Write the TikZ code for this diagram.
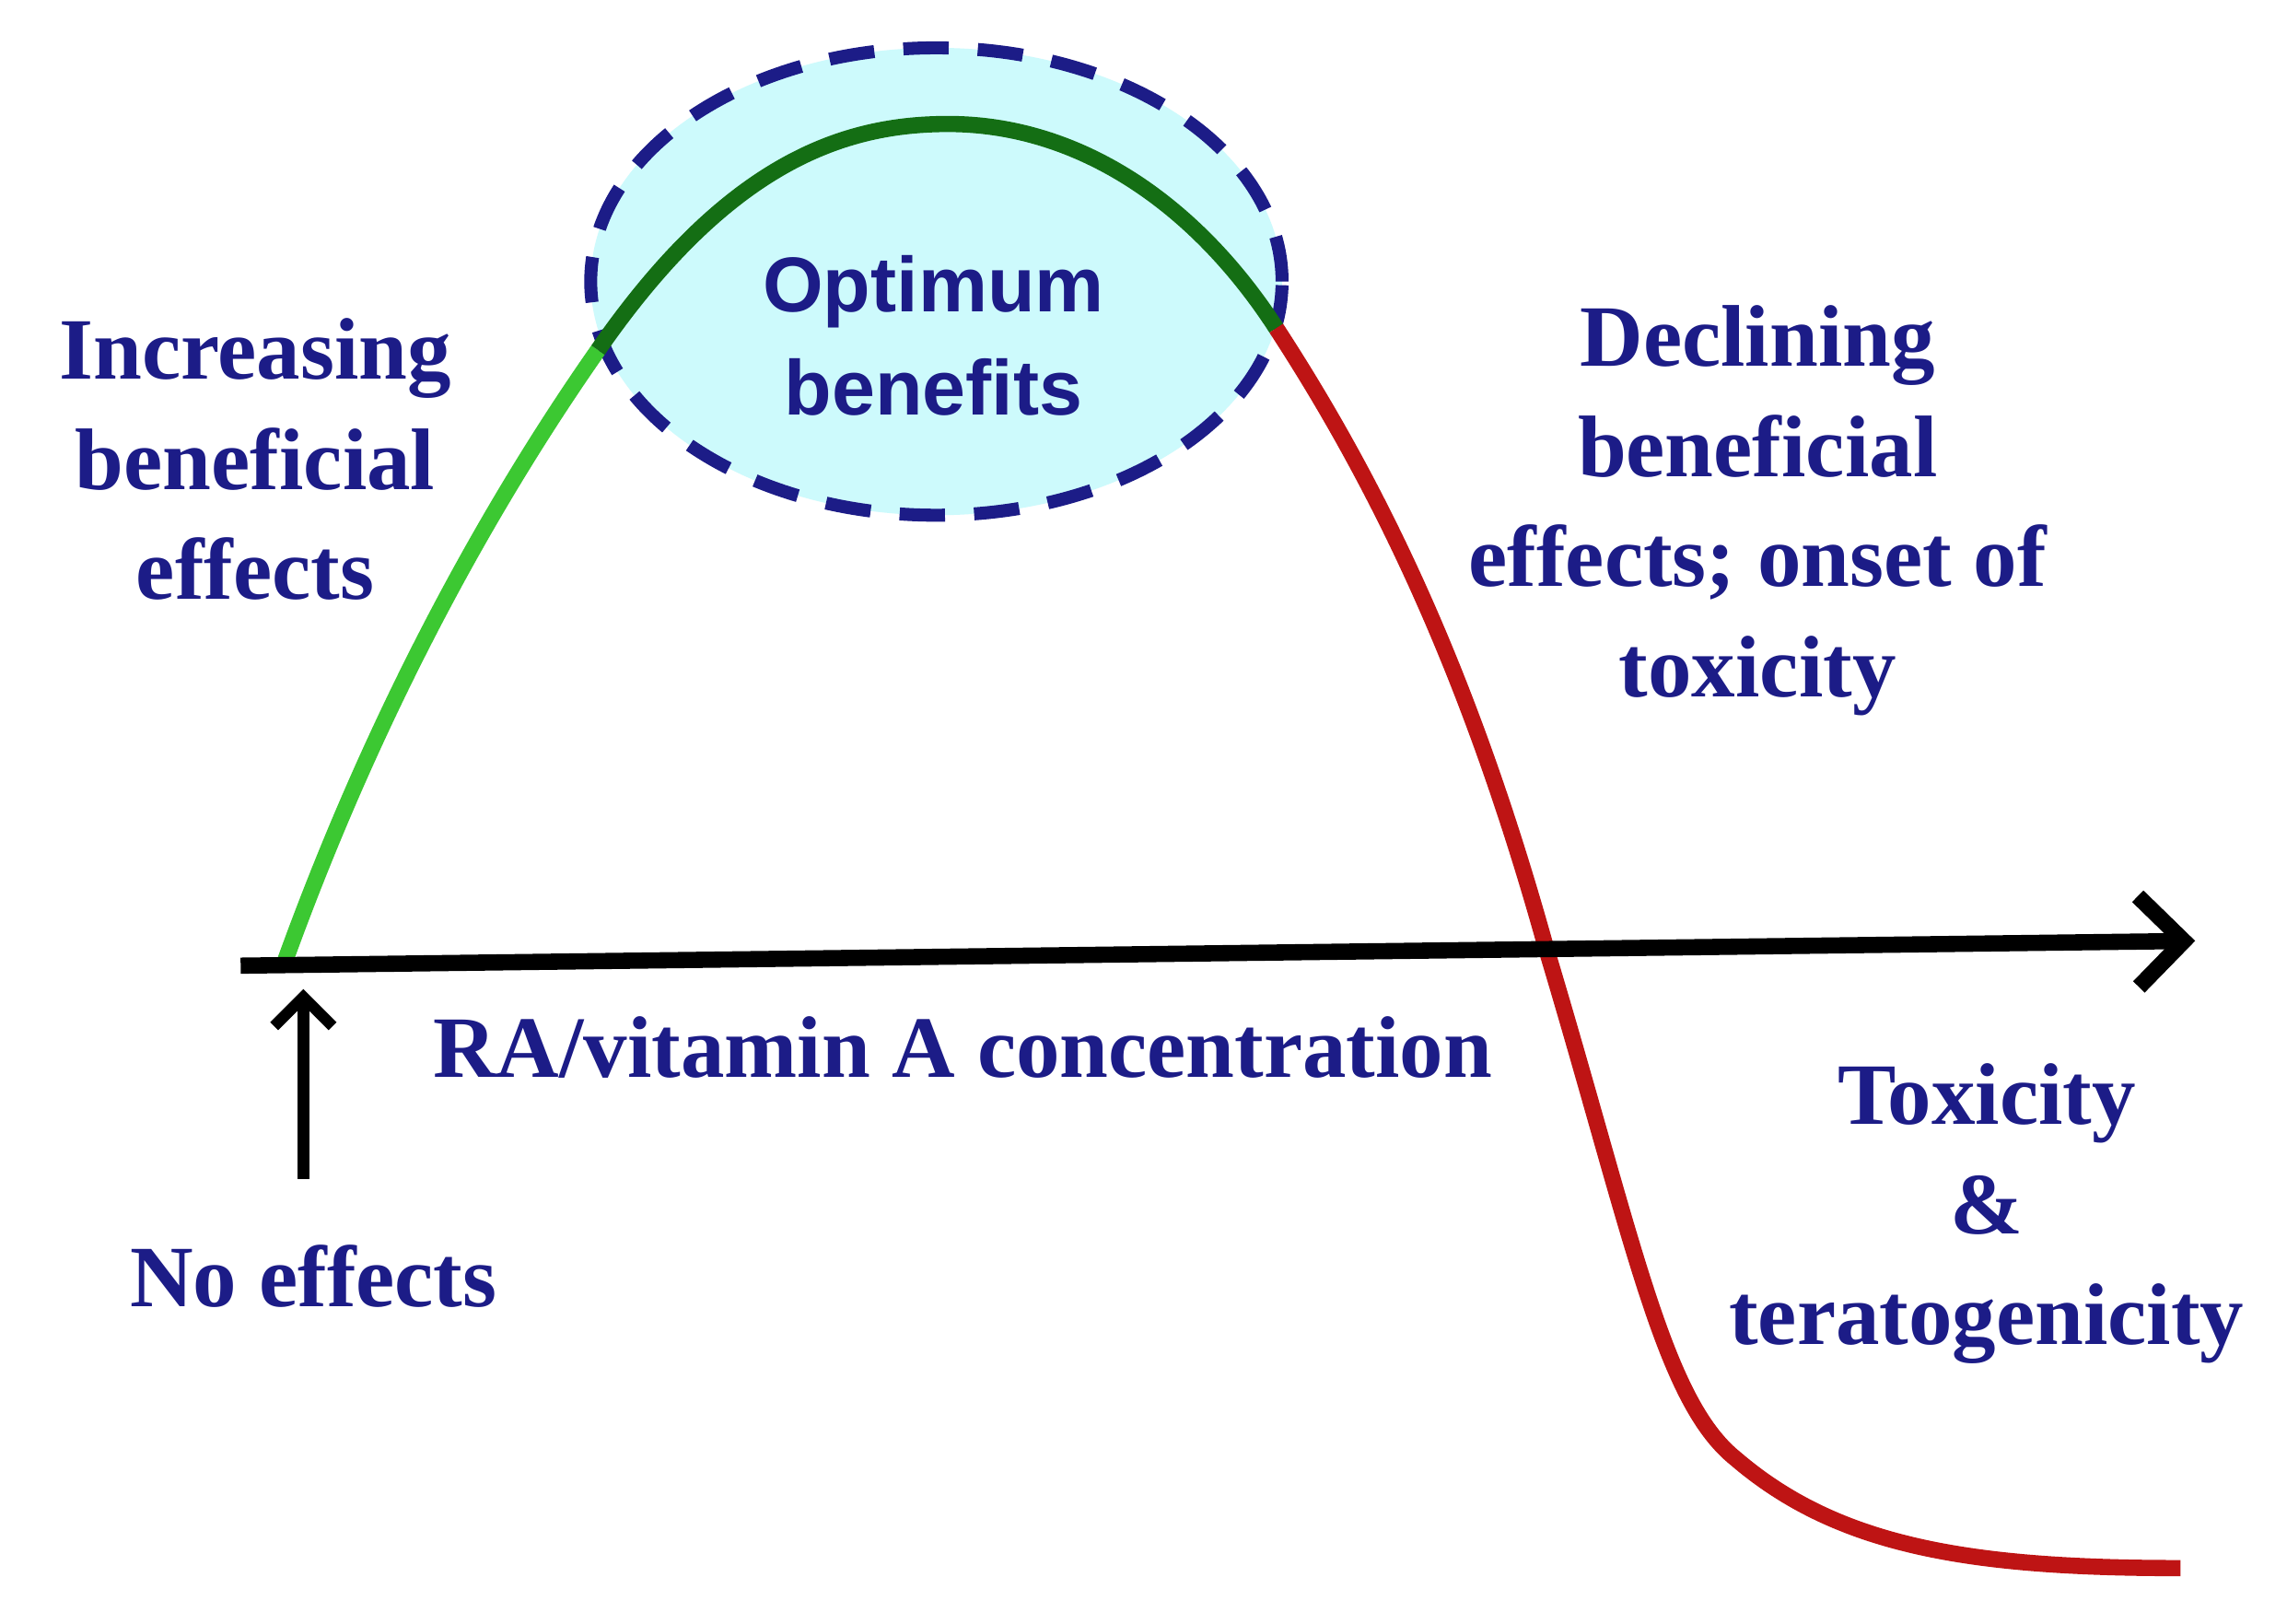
\documentclass[tikz,border=0pt]{standalone}
\usepackage{fontspec}
\setmainfont{Liberation Serif}
\newfontfamily\arialf{Liberation Sans}
\usetikzlibrary{arrows.meta,shapes.geometric}
\definecolor{navy}{RGB}{28,28,135}
\definecolor{lgreen}{RGB}{60,200,50}
\definecolor{dgreen}{RGB}{20,110,20}
\definecolor{dred}{RGB}{190,20,20}
\definecolor{lcyan}{RGB}{205,250,252}
\tikzset{lbl/.style={text=navy,font=\bfseries\fontsize{27}{34}\selectfont,align=center,inner sep=0pt},
 curve/.style={line width=5pt}}
\begin{document}
\begin{tikzpicture}[x=0.01583cm,y=-0.01583cm]
\useasboundingbox (0,0) rectangle (1568,1113);
\fill[white] (0,0) rectangle (1568,1113);
\node[ellipse,draw=navy,fill=lcyan,dashed,dash pattern=on 14pt off 9pt,line width=4pt,minimum width=7.5cm,minimum height=5.07cm,inner sep=0pt] (ell) at (642,193) {};
\node[lbl,font=\arialf\bfseries\fontsize{24}{32}\selectfont] (opt) at (640,230) {Optimum\\benefits};
\coordinate (a0) at (195,660);
\coordinate (a1) at (410,240);
\coordinate (a2) at (875,225);
\draw[curve,lgreen] (a0) .. controls (260,480) and (340,340) .. (a1);
\draw[curve,dgreen] (a1) .. controls (500,110) and (580,85) .. (650,85) .. controls (740,85) and (820,140) .. (a2);
\draw[curve,dred] (a2) .. controls (950,340) and (1010,470) .. (1060,650) .. controls (1120,850) and (1140,960) .. (1190,1000) .. controls (1260,1060) and (1350,1075) .. (1495,1075);
\coordinate (x0) at (165,662);
\coordinate (x1) at (1505,645);
\draw[line width=5pt,-{Straight Barb[length=14pt,width=28pt,line width=5pt]}] (x0) -- (x1);
\node[lbl] (inc) at (175,315) {Increasing\\beneficial\\effects};
\node[lbl] (dec) at (1205,350) {Declining\\beneficial\\effects; onset of\\toxicity};
\node[lbl] (ra) at (660,718) {RA/vitamin A concentration};
\node[lbl] (tox) at (1362,832) {Toxicity\\\&\\teratogenicity};
\node[lbl] (no) at (215,875) {No effects};
\coordinate (arrtop) at (208,678);
\draw[line width=3.5pt,-{Straight Barb[length=9pt,width=18pt,line width=3.5pt]}] (208,808) -- (arrtop);
\end{tikzpicture}
\end{document}
